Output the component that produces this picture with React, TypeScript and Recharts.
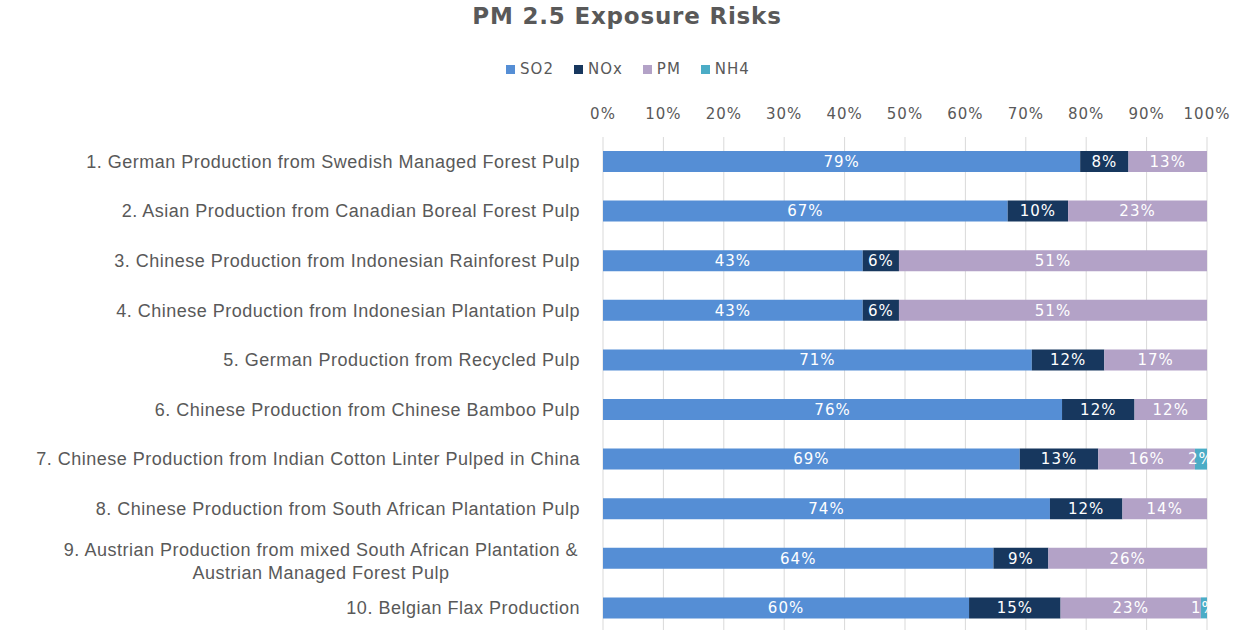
import React from "react";
import {
  BarChart,
  Bar,
  XAxis,
  YAxis,
  CartesianGrid,
  LabelList,
} from "recharts";

const categories = [
  "1. German Production from Swedish Managed Forest Pulp",
  "2. Asian Production from Canadian Boreal Forest Pulp",
  "3. Chinese Production from Indonesian Rainforest Pulp",
  "4. Chinese Production from Indonesian Plantation Pulp",
  "5. German Production from Recycled Pulp",
  "6. Chinese Production from Chinese Bamboo Pulp",
  "7. Chinese Production from Indian Cotton Linter Pulped in China",
  "8. Chinese Production from South African Plantation Pulp",
  "9. Austrian Production from mixed South African Plantation &\nAustrian Managed Forest Pulp",
  "10. Belgian Flax Production",
];

const so2 = [79, 67, 43, 43, 71, 76, 69, 74, 64, 60];
const nox = [8, 10, 6, 6, 12, 12, 13, 12, 9, 15];
const pm = [13, 23, 51, 51, 17, 12, 16, 14, 26, 23];
const nh4 = [0, 0, 0, 0, 0, 0, 2, 0, 0, 1];

const xTicks = [0, 0.1, 0.2, 0.3, 0.4, 0.5, 0.6, 0.7, 0.8, 0.9, 1];

const series = [
  { key: "so2", name: "SO2", color: "#558ed5" },
  { key: "nox", name: "NOx", color: "#17375e" },
  { key: "pm", name: "PM", color: "#b3a2c7" },
  { key: "nh4", name: "NH4", color: "#4bacc6" },
];

const data = categories.map((name, i) => ({
  name,
  so2: so2[i],
  nox: nox[i],
  pm: pm[i],
  nh4: nh4[i],
}));

const pct = (v: any) => (v ? `${v}%` : "");

const sans = "'DejaVu Sans', Verdana, sans-serif";

function CategoryTick(props: any) {
  const { x, y, payload } = props;
  const lines = String(payload.value).split("\n");
  const style = {
    fontFamily: "'Liberation Sans', Arial, sans-serif",
    fontSize: 18,
    letterSpacing: 0.5,
    fill: "#595959",
  };
  if (lines.length === 1) {
    return (
      <text x={x - 15} y={y} dy={6} textAnchor="end" style={style}>
        {lines[0]}
      </text>
    );
  }
  return (
    <text x={x - 274} y={y} textAnchor="middle" style={style}>
      <tspan x={x - 274} dy={-3}>{lines[0]}</tspan>
      <tspan x={x - 274} dy={23}>{lines[1]}</tspan>
    </text>
  );
}

export default function App() {
  return (
    <div style={{ position: "relative", width: 1243, height: 640 }}>
      <style>{"body{margin:0}"}</style>
      <div
        style={{
          position: "absolute",
          top: 3,
          left: 0,
          width: 1254,
          textAlign: "center",
          fontFamily: sans,
          fontWeight: "bold",
          fontSize: 23,
          letterSpacing: 0.8,
          color: "#595959",
        }}
      >
        PM 2.5 Exposure Risks
      </div>
      <div
        style={{
          position: "absolute",
          top: 60,
          left: 0,
          width: 1256,
          display: "flex",
          justifyContent: "center",
          gap: 20,
          fontFamily: sans,
          fontSize: 15,
          letterSpacing: 1,
          color: "#595959",
        }}
      >
        {series.map((s) => (
          <div key={s.key} style={{ display: "flex", alignItems: "center" }}>
            <span
              style={{
                width: 9,
                height: 9,
                background: s.color,
                display: "inline-block",
                marginRight: 5,
              }}
            />
            {s.name}
          </div>
        ))}
      </div>
      <BarChart
        width={1243}
        height={640}
        data={data}
        layout="vertical"
        stackOffset="expand"
        barSize={21}
        margin={{ top: 107, right: 36, bottom: 7, left: 0 }}
      >
        <CartesianGrid horizontal={false} stroke="#d9d9d9" />
        <XAxis
          type="number"
          orientation="top"
          domain={[0, 1]}
          ticks={xTicks}
          tickFormatter={(v) => `${Math.round(v * 100)}%`}
          axisLine={false}
          tickLine={false}
          tickSize={0}
          tickMargin={18}
          height={30}
          tick={{
            fill: "#595959",
            fontSize: 15,
            letterSpacing: 1,
            fontFamily: sans,
          }}
        />
        <YAxis
          type="category"
          dataKey="name"
          width={603}
          axisLine={false}
          tickLine={false}
          tick={<CategoryTick />}
          interval={0}
        />
        {series.map((s) => (
          <Bar
            key={s.key}
            dataKey={s.key}
            name={s.name}
            stackId="a"
            fill={s.color}
            isAnimationActive={false}
          >
            <LabelList
              dataKey={s.key}
              position="center"
              formatter={pct}
              fill="#ffffff"
              style={{ fontSize: 15, letterSpacing: 1, fontFamily: sans }}
            />
          </Bar>
        ))}
      </BarChart>
    </div>
  );
}
